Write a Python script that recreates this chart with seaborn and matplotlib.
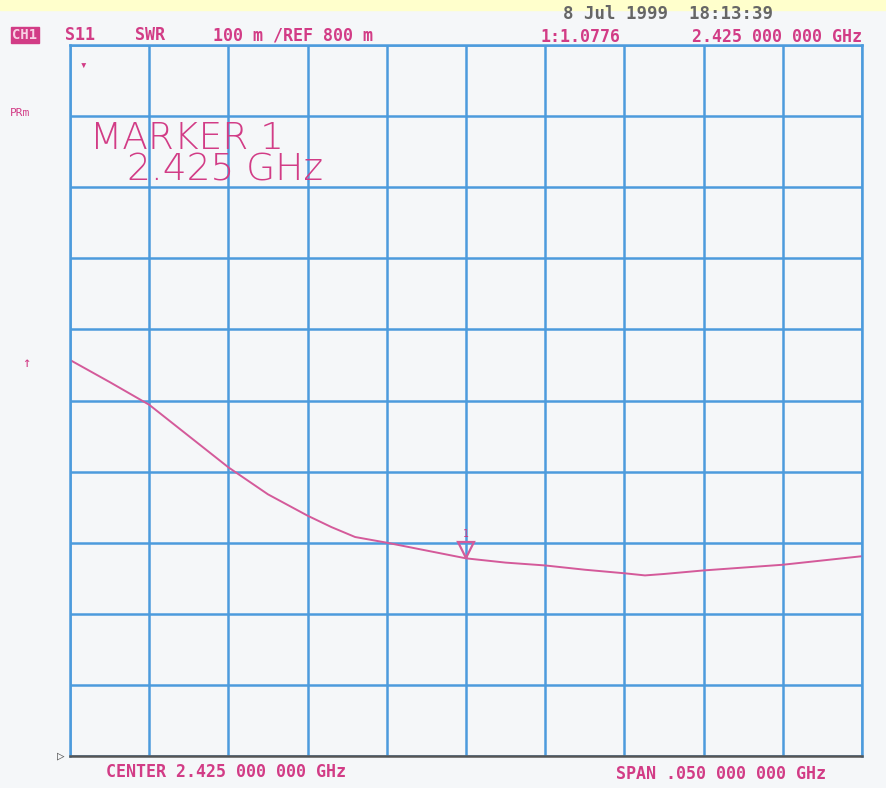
"""
Network analyser plot: S11 SWR sweep around 2.425 GHz (CH1, 100 m/div, REF 800 m).
"""

import matplotlib
matplotlib.use("Agg")
import matplotlib.pyplot as plt
import numpy as np
import pandas as pd
import seaborn as sns

# --- data ---
freq_ghz = [2.4000, 2.4025, 2.4050, 2.4075, 2.4100, 2.4125, 2.4150, 2.4165,
            2.4180, 2.4200, 2.4225, 2.4250, 2.4275, 2.4300, 2.4325, 2.4350,
            2.4363, 2.4375, 2.4400, 2.4425, 2.4450, 2.4475, 2.4500]
swr = [1.357, 1.326, 1.294, 1.250, 1.206, 1.168, 1.138, 1.122,
       1.108, 1.100, 1.089, 1.078, 1.072, 1.068, 1.062, 1.057,
       1.054, 1.056, 1.061, 1.065, 1.069, 1.075, 1.081]

marker_freq = 2.425
marker_value = 1.0776
ref_value = 0.8
scale_per_div = 0.1
center_ghz = 2.425
span_ghz = 0.050

TRACE_COLOR = "#D45A9A"
TEXT_COLOR = "#D23C86"
GRID_COLOR = "#4C9BDD"
PAPER = "#F5F7F9"

sns.set_theme(style="white")
plt.rcParams["font.family"] = ["DejaVu Sans Mono", "DejaVu Sans"]

df = pd.DataFrame({"freq": freq_ghz, "swr": swr})

fig = plt.figure(figsize=(8.87, 7.88), dpi=100, facecolor=PAPER)
ax = fig.add_axes([70 / 887, 1 - 756 / 788, 792 / 887, 711 / 788])
ax.set_facecolor(PAPER)

sns.lineplot(data=df, x="freq", y="swr", color=TRACE_COLOR, lw=1.4, ax=ax)

x0, x1 = center_ghz - span_ghz / 2, center_ghz + span_ghz / 2
y0, y1 = ref_value, ref_value + 10 * scale_per_div
ax.set_xlim(x0, x1)
ax.set_ylim(y0, y1)
ax.set_xticks(np.linspace(x0, x1, 11))
ax.set_yticks(np.linspace(y0, y1, 11))
ax.set_xticklabels([])
ax.set_yticklabels([])
ax.tick_params(length=0)
ax.set_xlabel("")
ax.set_ylabel("")
ax.grid(True, color=GRID_COLOR, lw=1.8)
for side in ("top", "left", "right"):
    ax.spines[side].set_color(GRID_COLOR)
    ax.spines[side].set_linewidth(1.8)
ax.spines["bottom"].set_color("#555555")
ax.spines["bottom"].set_linewidth(1.8)

# marker 1 symbol
ax.plot([marker_freq], [marker_value + 0.012], marker="v", ms=11, mfc="none",
        mec=TRACE_COLOR, mew=1.6, clip_on=False)
ax.text(marker_freq, marker_value + 0.027, "1", color=TEXT_COLOR, fontsize=7,
        ha="center", va="bottom")

# marker readout inside the grid
ax.text(0.025, 0.869, "MARKER 1", transform=ax.transAxes, color=TEXT_COLOR,
        fontsize=27, family="DejaVu Sans", weight="light", va="center")
ax.text(0.072, 0.824, "2.425 GHz", transform=ax.transAxes, color=TEXT_COLOR,
        fontsize=27, family="DejaVu Sans", weight="light", va="center")
ax.text(0.012, 0.97, "\u25be", transform=ax.transAxes, color=TEXT_COLOR,
        fontsize=9, va="center")

# yellow strip on top of the page
fig.patches.append(plt.Rectangle((0, 1 - 10 / 788), 1, 10 / 788, transform=fig.transFigure,
                                 color="#FFFFCC", zorder=0))

hdr = dict(color=TEXT_COLOR, fontsize=12, weight="bold", va="center")
fig.text(12 / 887, 1 - 35 / 788, "CH1", bbox=dict(boxstyle="square,pad=0.1",
         fc=TEXT_COLOR, ec=TEXT_COLOR), **{**hdr, "color": "#F8D0E4", "fontsize": 10})
fig.text(65 / 887, 1 - 35 / 788, "S11", **hdr)
fig.text(135 / 887, 1 - 35 / 788, "SWR", **hdr)
fig.text(213 / 887, 1 - 35 / 788, "100 m /REF 800 m", **hdr)
fig.text(540 / 887, 1 - 37 / 788, f"1:{marker_value:.4f}", **hdr)
fig.text(862 / 887, 1 - 37 / 788, "2.425 000 000 GHz", ha="right", **hdr)
fig.text(563 / 887, 1 - 14 / 788, "8 Jul 1999  18:13:39", color="#666666",
         fontsize=12.5, weight="bold", va="center")

fig.text(10 / 887, 1 - 113 / 788, "PRm", color=TEXT_COLOR, fontsize=8, va="center")
fig.text(26 / 887, 1 - 363 / 788, "\u2191", color=TEXT_COLOR, fontsize=10,
         ha="center", va="center")
fig.text(57 / 887, 1 - 756 / 788, "\u25b7", color="#555555", fontsize=9, va="center")

fig.text(106 / 887, 1 - 772 / 788, "CENTER 2.425 000 000 GHz", **hdr)
fig.text(616 / 887, 1 - 774 / 788, "SPAN .050 000 000 GHz", **hdr)

fig.savefig("out.png", dpi=100, facecolor=PAPER)
plt.close(fig)
